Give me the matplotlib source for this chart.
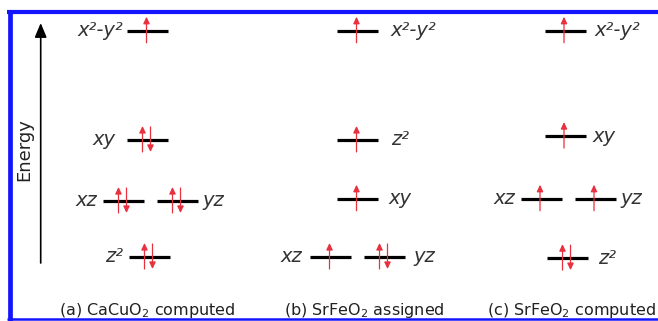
import matplotlib
matplotlib.use("Agg")
import matplotlib.pyplot as plt
from matplotlib.patches import FancyArrowPatch
from matplotlib.lines import Line2D

# ---------------- data ----------------
captions = [r"(a) CaCuO$_2$ computed", r"(b) SrFeO$_2$ assigned", r"(c) SrFeO$_2$ computed"]

orbitals_a = ["z²", "xz", "yz", "xy", "x²-y²"]
energy_a = [0.0, 1.0, 1.0, 2.09, 4.04]
electrons_a = [2, 2, 2, 2, 1]

orbitals_b = ["xz", "yz", "xy", "z²", "x²-y²"]
energy_b = [0.0, 0.0, 1.04, 2.09, 4.04]
electrons_b = [1, 2, 1, 1, 1]

orbitals_c = ["z²", "xz", "yz", "xy", "x²-y²"]
energy_c = [-0.02, 1.04, 1.04, 2.16, 4.04]
electrons_c = [2, 1, 1, 1, 1]

axis_label = "Energy"

# ---------------- layout (pixels) ----------------
W, H = 658, 321
PX_PER_E = 56.0
Y0 = 257.0  # pixel row of energy 0

def e_of(ypx):
    return (Y0 - ypx) / PX_PER_E

def dE(px):
    return px / PX_PER_E

level_x_a = [149.5, 123.5, 177.5, 147.5, 147.5]
label_x_a = [123, 97, 202, 115, 123]
label_side_a = ["left", "left", "right", "left", "left"]

level_x_b = [330.5, 384.5, 357.5, 357.5, 357.5]
label_x_b = [302, 413, 388, 391, 390]
label_side_b = ["left", "right", "right", "right", "right"]

level_x_c = [567.5, 541, 595, 565, 565]
label_x_c = [598, 515, 620, 593, 595]
label_side_c = ["right", "left", "right", "right", "right"]

caption_x = [147, 364, 571]

panels = [
    (orbitals_a, energy_a, electrons_a, level_x_a, label_x_a, label_side_a),
    (orbitals_b, energy_b, electrons_b, level_x_b, label_x_b, label_side_b),
    (orbitals_c, energy_c, electrons_c, level_x_c, label_x_c, label_side_c),
]

RED = "#e8303f"
HALF = 20.5

fig = plt.figure(figsize=(W / 100, H / 100), dpi=100)
fig.patch.set_facecolor("white")
ax = fig.add_axes([0, 0, 1, 1])
ax.set_xlim(0, W)
ax.set_ylim(e_of(H), e_of(0))
ax.axis("off")

def electron(x, e, up):
    if up:
        a, b = e - dE(12), e + dE(14)
    else:
        a, b = e + dE(13), e - dE(12)
    p = FancyArrowPatch((x, a), (x, b), arrowstyle="-|>,head_length=4.0,head_width=1.9",
                        mutation_scale=1, color=RED, lw=0.9, shrinkA=0, shrinkB=0, zorder=3)
    ax.add_patch(p)

for orbs, ens, els, lx, tx, side in panels:
    for name, e, n, cx, labx, sd in zip(orbs, ens, els, lx, tx, side):
        ax.plot([cx - HALF, cx + HALF], [e, e], color="black", lw=2.3,
                solid_capstyle="butt", zorder=2)
        if n == 1:
            electron(cx - 1, e, True)
        else:
            electron(cx - 5, e, True)
            electron(cx + 3, e, False)
        ha = "right" if sd == "left" else "left"
        ax.text(labx, e - dE(5.5), name, ha=ha, va="baseline", fontsize=14,
                style="italic", color="#333333", family="DejaVu Sans")

for cap, cx in zip(captions, caption_x):
    ax.text(cx, e_of(315.5), cap, ha="center", va="baseline", fontsize=11.5,
            color="#222222", family="DejaVu Sans")

# energy axis arrow
ax.add_patch(FancyArrowPatch((40.7, e_of(263)), (40.7, e_of(23)),
                             arrowstyle="-|>,head_length=8.6,head_width=3.6",
                             mutation_scale=1, color="black", lw=1.2,
                             shrinkA=0, shrinkB=0))
ax.text(24, e_of(150), axis_label, rotation=90, ha="center", va="center",
        fontsize=13, color="#222222", family="DejaVu Sans")

# blue frame (left, top, bottom)
BLUE = "#1414ff"
fig.add_artist(Line2D([9.7 / W, 9.7 / W], [1 - 10 / H, 1 - 320.5 / H], color=BLUE, lw=3.4,
                      transform=fig.transFigure, solid_capstyle="butt"))
fig.add_artist(Line2D([7.3 / W, 1.0], [1 - 12 / H, 1 - 12 / H], color=BLUE, lw=3.0,
                      transform=fig.transFigure, solid_capstyle="butt"))
fig.add_artist(Line2D([7.3 / W, 1.0], [1 - 319 / H, 1 - 319 / H], color=BLUE, lw=1.8,
                      transform=fig.transFigure, solid_capstyle="butt"))

fig.savefig("out.png", dpi=100, facecolor="white")
